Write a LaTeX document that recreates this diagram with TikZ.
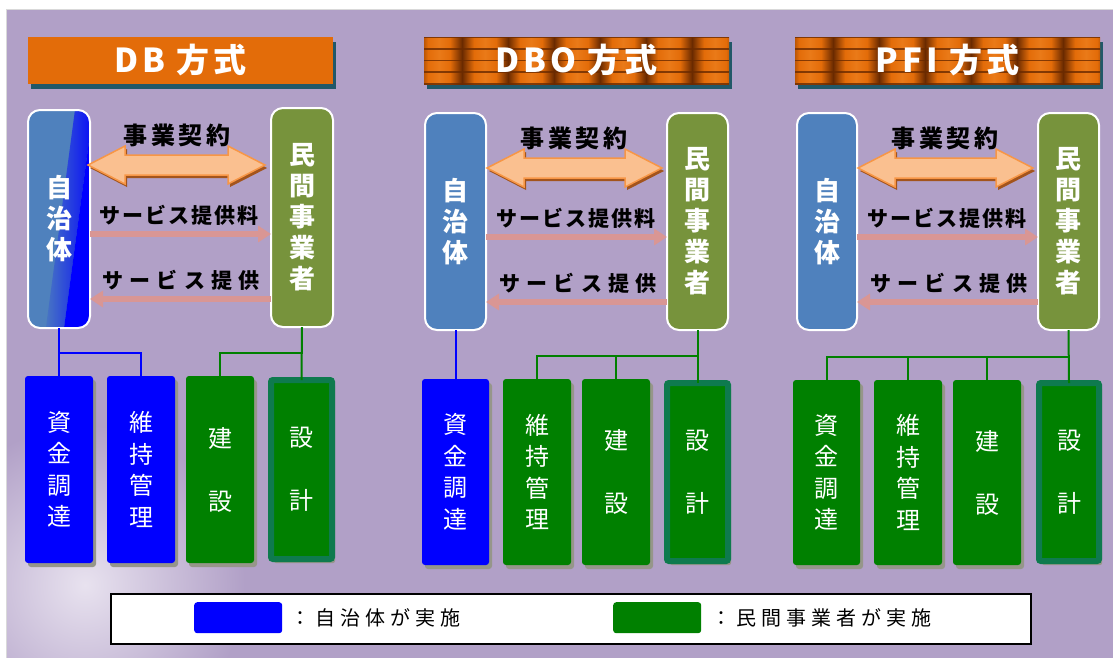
\documentclass[tikz,border=0pt]{standalone}
\usepackage{fontspec}
\newfontfamily\jp{Noto Sans CJK JP}
\usetikzlibrary{arrows.meta,shadows,calc}
\definecolor{bgp}{HTML}{B1A0C7}
\definecolor{glow}{HTML}{E8E2EF}
\definecolor{hdor}{HTML}{E36C09}
\definecolor{hdor2}{HTML}{EA7A18}
\definecolor{hdsh}{HTML}{215868}
\definecolor{hddk}{HTML}{6A2A00}
\definecolor{steel}{HTML}{4F81BD}
\definecolor{olive}{HTML}{77933C}
\definecolor{pblue}{HTML}{0000FF}
\definecolor{pgreen}{HTML}{008000}
\definecolor{dgborder}{HTML}{0E7A4E}
\definecolor{shgray}{HTML}{96968A}
\definecolor{pinkar}{HTML}{D99694}
\definecolor{afill}{HTML}{FAC090}
\definecolor{aline}{HTML}{F79646}
\definecolor{ashadow}{HTML}{A3541C}
\pgfdeclarehorizontalshading{hcell}{100bp}{color(0bp)=(hddk); color(25bp)=(hddk); color(38bp)=(hdor); color(50bp)=(hdor2); color(62bp)=(hdor); color(75bp)=(hddk); color(100bp)=(hddk)}
\tikzset{
  hdr/.style={minimum width=305pt, minimum height=47pt, inner sep=0pt, outer sep=0pt, anchor=north west, text=white,
    font=\jp\bfseries\fontsize{33}{33}\selectfont\addfontfeatures{LetterSpace=12}},
  bigbox/.style={anchor=north west, inner sep=0pt, outer sep=0pt, rounded corners=12pt, draw=white, line width=2pt,
    text=white, align=center, font=\jp\bfseries\fontsize{26}{31}\selectfont},
  pubbox/.style={bigbox, fill=steel},
  privbox/.style={bigbox, fill=olive},
  task/.style={anchor=north west, inner sep=0pt, outer sep=0pt, rounded corners=3pt, text=white, align=center,
    font=\jp\fontsize{24}{31.5}\selectfont,
    drop shadow={shadow xshift=3pt, shadow yshift=-4pt, fill=shgray, opacity=1}},
  tb/.style={task, fill=pblue},
  tg/.style={task, fill=pgreen},
  td/.style={task, fill=pgreen, draw=dgborder, line width=6pt, rounded corners=2pt},
  bl/.style={draw=pblue, line width=2pt},
  gl/.style={draw=pgreen, line width=2pt},
  pk/.style={draw=pinkar, line width=6pt, -{Triangle[length=13pt,width=16pt]}},
  lab/.style={text=black, font=\jp\bfseries\fontsize{21}{21}\selectfont\addfontfeatures{LetterSpace=10}},
  labw/.style={text=black, font=\jp\bfseries\fontsize{21}{21}\selectfont\addfontfeatures{LetterSpace=29}},
  labk/.style={text=black, font=\jp\bfseries\fontsize{24}{24}\selectfont\addfontfeatures{LetterSpace=15}},
  lgt/.style={anchor=west, inner sep=0pt, text=black, font=\jp\fontsize{20}{20}\selectfont\addfontfeatures{LetterSpace=25}},
  sw/.style={anchor=north west, inner sep=0pt, rounded corners=3pt, minimum width=88pt, minimum height=31pt},
}
\newcommand\dblarr[3]{%
  \fill[ashadow] ({#1+2},{#3+3}) -- ({#1+39},{#3-16}) -- ({#1+39},{#3-7}) -- ({#2-35},{#3-7}) -- ({#2-35},{#3-16})
    -- ({#2+2},{#3+3}) -- ({#2-35},{#3+22}) -- ({#2-35},{#3+13}) -- ({#1+39},{#3+13}) -- ({#1+39},{#3+22}) -- cycle;
  \filldraw[fill=afill, draw=aline, line width=1.5pt, line join=miter] (#1,#3) -- ({#1+37},{#3-19}) -- ({#1+37},{#3-10}) -- ({#2-37},{#3-10}) -- ({#2-37},{#3-19})
    -- (#2,#3) -- ({#2-37},{#3+19}) -- ({#2-37},{#3+10}) -- ({#1+37},{#3+10}) -- ({#1+37},{#3+19}) -- cycle;}
\newcommand\texhdr[2]{%
  \fill[hdsh] ({#1+3},{#2+5}) rectangle ++(305,47);
  \begin{scope}
    \clip (#1,#2) rectangle ++(305,47);
    \fill[hddk] (#1,#2) rectangle ++(305,47);
    \foreach \r in {0,...,3}{\foreach \c in {0,...,6}{
      \shade[shading=hcell] ({#1+\c*46-8},{#2+\r*11.75}) rectangle ++(46,11.75);}}
    \foreach \r in {0,...,4}{\draw[hddk, line width=1.8pt, opacity=.8] (#1,{#2+\r*11.75}) -- ++(305,0);}
  \end{scope}}
\begin{document}
\begin{tikzpicture}[x=1pt,y=-1pt]
\useasboundingbox (0,0) rectangle (1113,657);
\fill[white] (-5,-5) rectangle (1120,665);
\begin{scope}
  \clip (6,9) rectangle (1120,665);
  \fill[bgp] (6,9) rectangle (1120,665);
  \shade[inner color=glow, outer color=bgp] (85,585) circle (160);
\end{scope}
\draw[gray!30, line width=0.8pt] (6,665) -- (6,9) -- (1120,9);

% ---------- headers
\fill[hdsh] (31,42) rectangle ++(305,47);
\node[hdr, fill=hdor] (h1) at (28,37) {DB 方式};
\texhdr{424}{37}
\node[hdr] (h2) at (424,37) {DBO 方式};
\texhdr{795}{37}
\node[hdr] (h3) at (795,37) {PFI 方式};

% ---------- panel 1
\begin{scope}
  \clip[rounded corners=12pt] (28,110) rectangle (90,328);
  \fill[steel] (28,110) rectangle (90,328);
  \begin{scope}[shift={(69.5,219)}, rotate=-7.6]
    \shade[left color=steel, right color=pblue] (-9,-150) rectangle (9,150);
    \fill[pblue] (9,-150) rectangle (60,150);
  \end{scope}
\end{scope}
\node[bigbox, minimum width=62pt, minimum height=218pt] (j1) at (28,110) {自\\治\\体};
\node[privbox, minimum width=62pt, minimum height=219pt] (m1) at (271,108) {民\\間\\事\\業\\者};

\node[tb, minimum width=68pt, minimum height=187pt] (f1) at (25,376) {資\\金\\調\\達};
\node[tb, minimum width=68pt, minimum height=187pt] (k1) at (107,376) {維\\持\\管\\理};
\node[tg, minimum width=68pt, minimum height=187pt] (c1) at (186,376) {建\\[31.5pt]設};
\node[td, minimum width=61pt, minimum height=179pt] (d1) at (271,380) {設\\[31.5pt]計};

\dblarr{88}{265}{165}
\node[labk] (l1a) at (177,135) {事業契約};
\node[lab] (l1b) at (179,215) {サービス提供料};
\node[labw] (l1c) at (181,280) {サービス提供};
\coordinate (p1a) at (0,234);
\coordinate (p1b) at (0,299);
\draw[pk] (j1.east |- p1a) -- (m1.west |- p1a);
\draw[pk] (m1.west |- p1b) -- (j1.east |- p1b);

\coordinate (b1) at (0,353);
\draw[bl] (j1.south) -- (f1.north);
\draw[bl] (f1.north |- b1) -| (k1.north);
\draw[gl] (m1.south) -- (d1.north);
\draw[gl] (d1.north |- b1) -| (c1.north);

% ---------- panel 2
\node[pubbox, minimum width=61pt, minimum height=217pt] (j2) at (425,113) {自\\治\\体};
\node[privbox, minimum width=61pt, minimum height=217pt] (m2) at (667,113) {民\\間\\事\\業\\者};

\node[tb, minimum width=67pt, minimum height=186pt] (f2) at (422,379) {資\\金\\調\\達};
\node[tg, minimum width=68pt, minimum height=186pt] (k2) at (503,379) {維\\持\\管\\理};
\node[tg, minimum width=68pt, minimum height=186pt] (c2) at (582,379) {建\\[31.5pt]設};
\node[td, minimum width=61pt, minimum height=178pt] (d2) at (667,383) {設\\[31.5pt]計};

\dblarr{487}{662}{168}
\node[labk] (l2a) at (574,138) {事業契約};
\node[lab] (l2b) at (576,218) {サービス提供料};
\node[labw] (l2c) at (578,283) {サービス提供};
\coordinate (p2a) at (0,237);
\coordinate (p2b) at (0,302);
\draw[pk] (j2.east |- p2a) -- (m2.west |- p2a);
\draw[pk] (m2.west |- p2b) -- (j2.east |- p2b);

\coordinate (b2) at (0,356);
\draw[bl] (j2.south) -- (f2.north);
\draw[gl] (m2.south) -- (d2.north);
\draw[gl] (d2.north |- b2) -| (k2.north);
\draw[gl] (c2.north |- b2) -- (c2.north);

% ---------- panel 3
\node[pubbox, minimum width=60pt, minimum height=217pt] (j3) at (797,113) {自\\治\\体};
\node[privbox, minimum width=61pt, minimum height=217pt] (m3) at (1038,113) {民\\間\\事\\業\\者};

\node[tg, minimum width=67pt, minimum height=185pt] (f3) at (793,380) {資\\金\\調\\達};
\node[tg, minimum width=68pt, minimum height=185pt] (k3) at (874,380) {維\\持\\管\\理};
\node[tg, minimum width=68pt, minimum height=185pt] (c3) at (953,380) {建\\[31.5pt]設};
\node[td, minimum width=60pt, minimum height=178pt] (d3) at (1039,383) {設\\[31.5pt]計};

\dblarr{858}{1033}{168}
\node[labk] (l3a) at (945,138) {事業契約};
\node[lab] (l3b) at (947,218) {サービス提供料};
\node[labw] (l3c) at (949,283) {サービス提供};
\coordinate (p3a) at (0,237);
\coordinate (p3b) at (0,302);
\draw[pk] (j3.east |- p3a) -- (m3.west |- p3a);
\draw[pk] (m3.west |- p3b) -- (j3.east |- p3b);

\coordinate (b3) at (0,357);
\draw[gl] (m3.south) -- (d3.north);
\draw[gl] (d3.north |- b3) -| (f3.north);
\draw[gl] (k3.north |- b3) -- (k3.north);
\draw[gl] (c3.north |- b3) -- (c3.north);

% ---------- legend
\node[draw=black, line width=1.5pt, fill=white, anchor=north west, minimum width=920pt, minimum height=50pt, inner sep=0pt] (lg) at (110,593) {};
\node[sw, fill=pblue] (ls1) at (194,602) {};
\node[lgt] (lt1) at (290,618) {：自治体が実施};
\node[sw, fill=pgreen] (ls2) at (613,602) {};
\node[lgt] (lt2) at (711,618) {：民間事業者が実施};
\end{tikzpicture}
\end{document}
